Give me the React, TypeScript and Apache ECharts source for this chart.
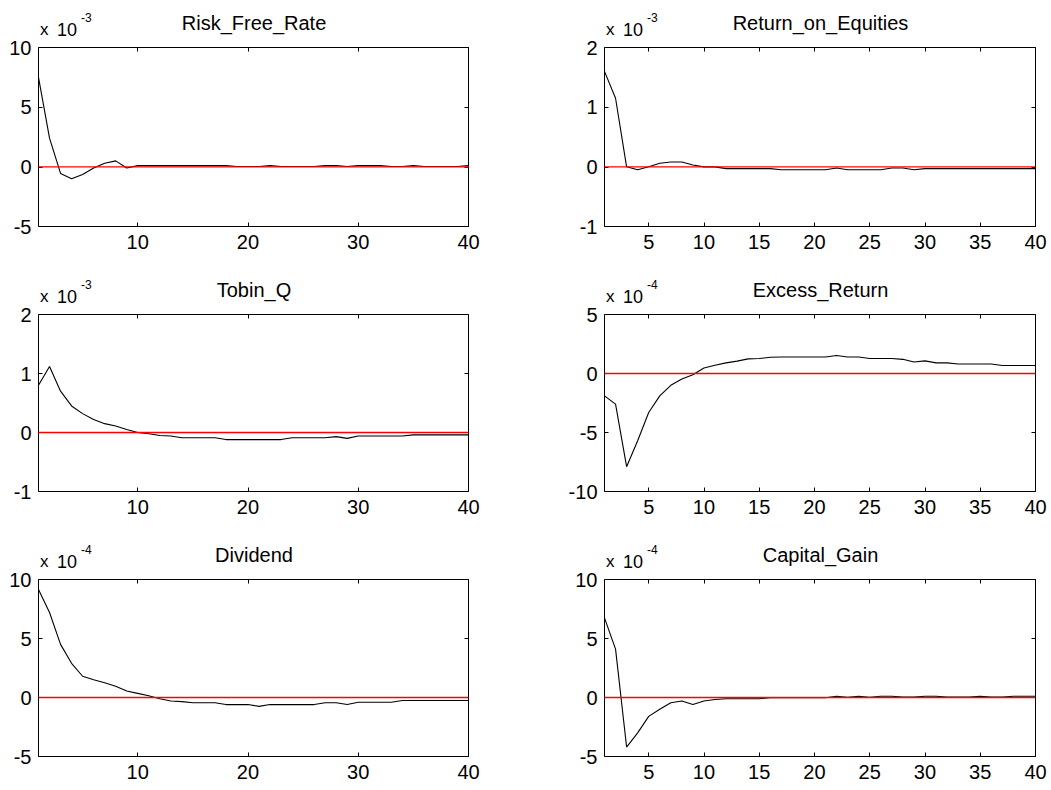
import React, { useEffect, useRef } from "react";
import * as echarts from "echarts";

// Periods 1..40
const periods: number[] = [
  1, 2, 3, 4, 5, 6, 7, 8, 9, 10, 11, 12, 13, 14, 15, 16, 17, 18, 19, 20,
  21, 22, 23, 24, 25, 26, 27, 28, 29, 30, 31, 32, 33, 34, 35, 36, 37, 38, 39, 40,
];

// Values in displayed units (multiply by 10^exponent for real values)
const riskFreeRate: number[] = [
  7.5, 2.4, -0.55, -1.0, -0.65, -0.1, 0.3, 0.5, -0.1, 0.1,
  0.1, 0.1, 0.1, 0.1, 0.1, 0.1, 0.1, 0.1, 0.03, 0.03,
  0.03, 0.1, 0.03, 0.03, 0.03, 0.03, 0.1, 0.1, 0.03, 0.1,
  0.1, 0.1, 0.03, 0.03, 0.1, 0.03, 0.03, 0.03, 0.03, 0.1,
]; // x 10^-3

const returnOnEquities: number[] = [
  1.6, 1.15, 0.0, -0.05, 0.0, 0.06, 0.08, 0.08, 0.03, 0.0,
  0.0, -0.03, -0.03, -0.03, -0.03, -0.03, -0.05, -0.05, -0.05, -0.05,
  -0.05, -0.02, -0.05, -0.05, -0.05, -0.05, -0.02, -0.02, -0.05, -0.03,
  -0.03, -0.03, -0.03, -0.03, -0.03, -0.03, -0.03, -0.03, -0.03, -0.03,
]; // x 10^-3

const tobinQ: number[] = [
  0.8, 1.12, 0.7, 0.45, 0.32, 0.22, 0.15, 0.11, 0.05, 0.0,
  -0.02, -0.05, -0.06, -0.09, -0.09, -0.09, -0.09, -0.12, -0.12, -0.12,
  -0.12, -0.12, -0.12, -0.09, -0.09, -0.09, -0.09, -0.07, -0.1, -0.06,
  -0.06, -0.06, -0.06, -0.06, -0.04, -0.04, -0.04, -0.04, -0.04, -0.04,
]; // x 10^-3

const excessReturn: number[] = [
  -1.9, -2.6, -7.9, -5.7, -3.3, -1.9, -1.0, -0.46, -0.1, 0.47,
  0.7, 0.9, 1.05, 1.24, 1.27, 1.38, 1.4, 1.4, 1.4, 1.4,
  1.4, 1.53, 1.4, 1.4, 1.27, 1.27, 1.27, 1.2, 0.97, 1.07,
  0.9, 0.9, 0.8, 0.8, 0.8, 0.8, 0.68, 0.68, 0.68, 0.68,
]; // x 10^-4

const dividend: number[] = [
  9.15, 7.2, 4.5, 2.9, 1.8, 1.5, 1.25, 0.95, 0.55, 0.35,
  0.15, -0.1, -0.3, -0.35, -0.45, -0.45, -0.45, -0.6, -0.6, -0.6,
  -0.75, -0.6, -0.6, -0.6, -0.6, -0.6, -0.45, -0.45, -0.6, -0.4,
  -0.4, -0.4, -0.4, -0.25, -0.25, -0.25, -0.25, -0.25, -0.25, -0.25,
]; // x 10^-4

const capitalGain: number[] = [
  6.75, 4.1, -4.2, -3.0, -1.6, -1.0, -0.45, -0.3, -0.6, -0.3,
  -0.17, -0.1, -0.1, -0.1, -0.1, -0.02, -0.02, -0.02, -0.02, -0.02,
  -0.02, 0.1, 0.02, 0.1, 0.02, 0.1, 0.1, 0.03, 0.03, 0.1,
  0.1, 0.03, 0.03, 0.03, 0.1, 0.03, 0.03, 0.1, 0.1, 0.1,
]; // x 10^-4

const xTicksLeft: number[] = [10, 20, 30, 40];
const xTicksRight: number[] = [5, 10, 15, 20, 25, 30, 35, 40];

const titles: string[] = [
  "Risk_Free_Rate",
  "Return_on_Equities",
  "Tobin_Q",
  "Excess_Return",
  "Dividend",
  "Capital_Gain",
];
const exponents: string[] = ["-3", "-3", "-3", "-4", "-4", "-4"];
const yMins: number[] = [-5, -1, -1, -10, -5, -5];
const yMaxs: number[] = [10, 2, 2, 5, 10, 10];
const yIntervals: number[] = [5, 1, 1, 5, 5, 5];
const zeroLevel = 0;
const seriesData: number[][] = [
  riskFreeRate,
  returnOnEquities,
  tobinQ,
  excessReturn,
  dividend,
  capitalGain,
];

const FONT = "'Liberation Sans', Arial, Helvetica, sans-serif";

export default function App() {
  const ref = useRef<HTMLDivElement>(null);

  useEffect(() => {
    if (!ref.current) return;
    const chart = echarts.init(ref.current, null, {
      renderer: "svg",
      width: 1051,
      height: 790,
    });

    const colLeft = [38.5, 604.5];
    const colWidth = [430, 431];
    const rowTop = [47.5, 314.5, 579.5];
    const rowHeight = [179, 177, 177];

    const grids: any[] = [];
    const xAxes: any[] = [];
    const yAxes: any[] = [];
    const series: any[] = [];
    const graphics: any[] = [];

    for (let i = 0; i < 6; i++) {
      const col = i % 2;
      const row = Math.floor(i / 2);
      const left = colLeft[col];
      const top = rowTop[row];
      const w = colWidth[col];
      const h = rowHeight[row];
      const ticks = col === 0 ? xTicksLeft : xTicksRight;

      grids.push({
        left,
        top,
        width: w,
        height: h,
        show: true,
        borderColor: "#000",
        borderWidth: 1,
        backgroundColor: "#fff",
        containLabel: false,
        z: 0,
      });

      xAxes.push({
        gridIndex: i,
        type: "value",
        min: 1,
        max: 40,
        position: "bottom",
        splitLine: { show: false },
        axisLine: { show: false, onZero: false },
        axisTick: {
          show: true,
          inside: true,
          length: 4,
          customValues: ticks,
          lineStyle: { color: "#000", width: 1 },
        },
        axisLabel: {
          show: true,
          customValues: ticks,
          color: "#000",
          fontSize: 20,
          fontFamily: FONT,
          margin: 5,
        },
      });
      xAxes.push({
        gridIndex: i,
        type: "value",
        min: 1,
        max: 40,
        position: "top",
        splitLine: { show: false },
        axisLine: { show: false, onZero: false },
        axisTick: {
          show: true,
          inside: true,
          length: 4,
          customValues: ticks,
          lineStyle: { color: "#000", width: 1 },
        },
        axisLabel: { show: false },
      });

      yAxes.push({
        gridIndex: i,
        type: "value",
        min: yMins[i],
        max: yMaxs[i],
        interval: yIntervals[i],
        position: "left",
        splitLine: { show: false },
        axisLine: { show: false, onZero: false },
        axisTick: {
          show: true,
          inside: true,
          length: 4,
          lineStyle: { color: "#000", width: 1 },
        },
        axisLabel: {
          show: true,
          color: "#000",
          fontSize: 20,
          fontFamily: FONT,
          margin: 7,
        },
      });
      yAxes.push({
        gridIndex: i,
        type: "value",
        min: yMins[i],
        max: yMaxs[i],
        interval: yIntervals[i],
        position: "right",
        splitLine: { show: false },
        axisLine: { show: false, onZero: false },
        axisTick: {
          show: true,
          inside: true,
          length: 4,
          lineStyle: { color: "#000", width: 1 },
        },
        axisLabel: { show: false },
      });

      series.push({
        type: "line",
        name: titles[i],
        xAxisIndex: i * 2,
        yAxisIndex: i * 2,
        data: periods.map((p, k) => [p, seriesData[i][k]]),
        showSymbol: false,
        symbol: "none",
        color: "#000",
        lineStyle: { color: "#000", width: 1.1 },
        z: 3,
      });

      const boxLeft = left + 0.5;
      const boxTop = top + 0.5;
      graphics.push({
        type: "text",
        x: boxLeft + w / 2,
        y: boxTop - 25,
        style: {
          text: titles[i],
          fill: "#000",
          font: `20px ${FONT}`,
          align: "center",
          verticalAlign: "middle",
        },
      });
      graphics.push({
        type: "text",
        x: boxLeft + 1,
        y: boxTop - 18.5,
        style: {
          text: "x",
          fill: "#000",
          font: `17px ${FONT}`,
          align: "left",
          verticalAlign: "middle",
        },
      });
      graphics.push({
        type: "text",
        x: boxLeft + 18,
        y: boxTop - 18.5,
        style: {
          text: "10",
          fill: "#000",
          font: `18px ${FONT}`,
          align: "left",
          verticalAlign: "middle",
        },
      });
      graphics.push({
        type: "text",
        x: boxLeft + 42,
        y: boxTop - 30,
        style: {
          text: exponents[i],
          fill: "#000",
          font: `12px ${FONT}`,
          align: "left",
          verticalAlign: "middle",
        },
      });
    }

    chart.setOption({
      animation: false,
      backgroundColor: "#fff",
      grid: grids,
      xAxis: xAxes,
      yAxis: yAxes,
      series,
      graphic: graphics,
    });

    // Red zero reference lines, positioned through each grid's own scales
    const zeroLines: any[] = [];
    for (let i = 0; i < 6; i++) {
      const p1 = chart.convertToPixel(
        { xAxisIndex: i * 2, yAxisIndex: i * 2 },
        [1, zeroLevel]
      ) as number[];
      const p2 = chart.convertToPixel(
        { xAxisIndex: i * 2, yAxisIndex: i * 2 },
        [40, zeroLevel]
      ) as number[];
      zeroLines.push({
        type: "line",
        z: 100,
        silent: true,
        shape: { x1: p1[0], y1: p1[1], x2: p2[0], y2: p2[1] },
        style: { stroke: "#ff0000", lineWidth: 1.3 },
      });
    }
    chart.setOption({ graphic: [...graphics, ...zeroLines] });

    return () => chart.dispose();
  }, []);

  return (
    <div
      ref={ref}
      style={{
        position: "fixed",
        left: 0,
        top: 0,
        width: 1051,
        height: 790,
        background: "#fff",
      }}
    />
  );
}
